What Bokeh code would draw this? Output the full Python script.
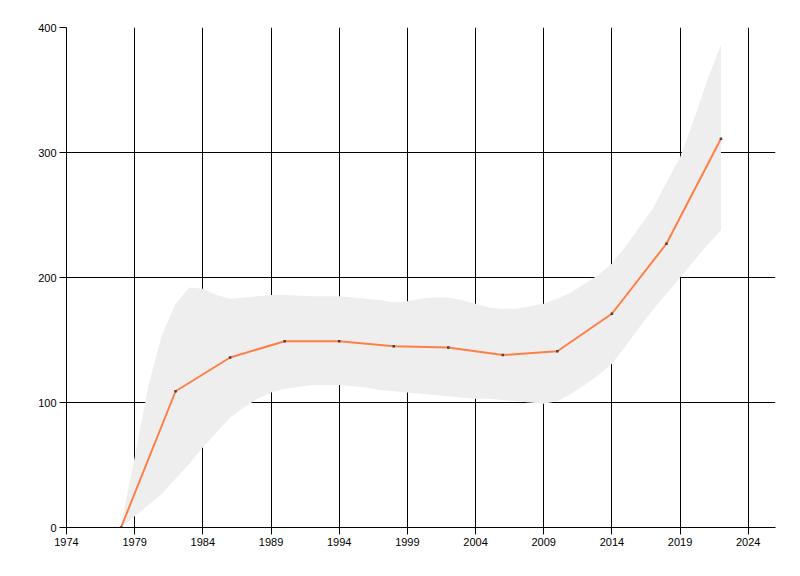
from bokeh.embed import file_html
from bokeh.models import ColumnDataSource, FixedTicker, Range1d
from bokeh.plotting import figure
from bokeh.resources import INLINE

# series
years = [1978, 1982, 1986, 1990, 1994, 1998, 2002, 2006, 2010, 2014, 2018, 2022]
values = [0, 109, 136, 149, 149, 145, 144, 138, 141, 171, 227, 311]

# shaded band (upper / lower edge)
band_years = [1978, 1979, 1980, 1981, 1982, 1983, 1984, 1985, 1986, 1987, 1988,
              1989, 1990, 1992, 1994, 1995, 1996, 1997, 1998, 1999, 2000, 2001,
              2002, 2003, 2004, 2005, 2006, 2007, 2008, 2009, 2010, 2011, 2012,
              2013, 2014, 2015, 2016, 2017, 2018, 2019, 2020, 2021, 2022]
band_upper = [2, 56, 113, 154, 179, 192, 191, 186, 183, 184, 185,
              186, 186, 185, 185, 184, 183, 182, 180, 181, 183, 184,
              184, 182, 179, 176, 175, 175, 177, 179, 183, 188, 195,
              202, 211, 225, 240, 255, 276, 296, 326, 358, 386]
band_lower = [0, 9, 18, 27, 39, 51, 64, 76, 88, 96, 103,
              108, 111, 114, 114, 113, 112, 110, 109, 108, 107, 106,
              105, 104, 103, 103, 102, 101, 100, 99, 101, 107, 114,
              122, 131, 145, 160, 174, 187, 200, 213, 226, 238]

x_ticks = [1974, 1979, 1984, 1989, 1994, 1999, 2004, 2009, 2014, 2019, 2024]
y_ticks = [0, 100, 200, 300, 400]

source = ColumnDataSource(dict(year=years, value=values))
band = ColumnDataSource(dict(year=band_years, upper=band_upper, lower=band_lower))

p = figure(width=784, height=560, output_backend="svg", toolbar_location=None,
           x_range=Range1d(1974, 2026), y_range=Range1d(0, 400),
           min_border_left=66, min_border_top=27, min_border_right=9,
           min_border_bottom=33)
p.outline_line_color = None
p.background_fill_color = "white"

p.varea(x='year', y1='lower', y2='upper', source=band, fill_color="#eeeeee",
        level="underlay")
p.line(x='year', y='value', source=source, line_color="#ff7f45", line_width=2)
p.scatter(x='year', y='value', source=source, marker="square", size=2.5,
          fill_color="#444444", line_color=None)

for ax in (p.xaxis[0], p.yaxis[0]):
    ax.axis_line_color = "black"
    ax.major_tick_line_color = "black"
    ax.major_tick_out = 7
    ax.major_tick_in = 0
    ax.minor_tick_line_color = None
    ax.major_label_text_color = "black"
    ax.major_label_text_font = "Liberation Sans"
    ax.major_label_text_font_size = "11px"
    ax.major_label_standoff = 3

p.xaxis.ticker = FixedTicker(ticks=x_ticks)
p.yaxis.ticker = FixedTicker(ticks=y_ticks)

p.xgrid.ticker = FixedTicker(ticks=x_ticks)
p.ygrid.ticker = FixedTicker(ticks=y_ticks)
p.grid.grid_line_color = "black"
p.grid.grid_line_alpha = 1.0
p.grid.level = "image"

open("out.html", "w").write(file_html(p, INLINE))
